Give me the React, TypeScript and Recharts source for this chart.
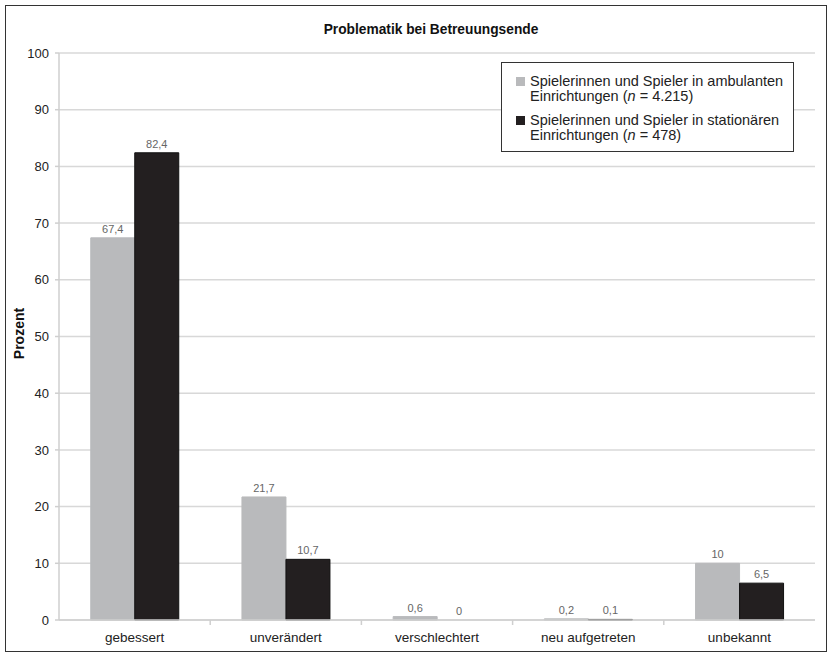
import { Bar, BarChart, CartesianGrid, Cell, LabelList, XAxis, YAxis } from "recharts";

const categories = ["gebessert", "unverändert", "verschlechtert", "neu aufgetreten", "unbekannt"];
const ambulant = [67.4, 21.7, 0.6, 0.2, 10];
const stationaer = [82.4, 10.7, 0, 0.1, 6.5];
const yTicks = [0, 10, 20, 30, 40, 50, 60, 70, 80, 90, 100];

const grayColor = "#b9babc";
const darkColor = "#231f20";
const font = "'Liberation Sans', Arial, sans-serif";

const data = categories.map((name, i) => ({
  name,
  ambulant: ambulant[i],
  stationaer: stationaer[i],
}));

const fmt = (v: unknown) => String(v).replace(".", ",");

// zero values get a hair-thin bar so their label still shows
const keepZero = (value: unknown) => (Number(value) === 0 ? 0.01 : 0);

function ValueLabel(props: any) {
  const { x, y, width, height, value } = props;
  const top = Math.min(Number(y), Number(y) + Number(height || 0));
  return (
    <text
      x={Number(x) + Number(width) / 2}
      y={top - 5}
      textAnchor="middle"
      fontSize={11}
      fill="#666"
      fontFamily={font}
    >
      {fmt(value)}
    </text>
  );
}

function CategoryTick(props: any) {
  const { x, y, payload, index } = props;
  const band = 756 / categories.length;
  return (
    <g>
      {index > 0 && (
        <line x1={x - band / 2} x2={x - band / 2} y1={y - 2} y2={y + 3} stroke="#cfcfcf" strokeWidth={1.5} />
      )}
      <text x={x} y={y + 20} textAnchor="middle" fontSize={13.5} fill="#222" fontFamily={font}>
        {payload.value}
      </text>
    </g>
  );
}

function LegendBox() {
  const row = (color: string, line1: string, n: string) => (
    <div style={{ display: "flex", alignItems: "flex-start", marginBottom: 9 }}>
      <span
        style={{
          width: 9,
          height: 9,
          background: color,
          marginTop: 3,
          marginRight: 5,
          flex: "none",
        }}
      />
      <span>
        {line1}
        <br />
        Einrichtungen (<i>n</i> = {n})
      </span>
    </div>
  );
  return (
    <div
      style={{
        position: "absolute",
        left: 501,
        top: 62,
        width: 293,
        height: 90,
        border: "1px solid #333",
        background: "#fff",
        fontFamily: font,
        fontSize: 14.5,
        lineHeight: "15px",
        color: "#222",
        padding: "11px 0 0 14px",
        boxSizing: "border-box",
      }}
    >
      {row(grayColor, "Spielerinnen und Spieler in ambulanten", "4.215")}
      {row(darkColor, "Spielerinnen und Spieler in stationären", "478")}
    </div>
  );
}

export default function App() {
  return (
    <div style={{ position: "fixed", left: 0, top: 0, width: 832, height: 656, background: "#fff" }}>
      <div
        style={{
          position: "absolute",
          left: 5,
          top: 5,
          width: 820,
          height: 645,
          border: "1px solid #333",
        }}
      />
      <div
        style={{
          position: "absolute",
          left: 0,
          width: 862,
          top: 22,
          textAlign: "center",
          fontFamily: font,
          fontWeight: "bold",
          fontSize: 13.75,
          lineHeight: "16px",
          color: "#111",
        }}
      >
        Problematik bei Betreuungsende
      </div>
      <BarChart
        width={832}
        height={656}
        data={data}
        margin={{ top: 53, right: 17, left: 0, bottom: 6 }}
        barCategoryGap="21%"
        barGap={0}
        style={{ position: "absolute", left: 0, top: 0 }}
      >
        <CartesianGrid vertical={false} stroke="#d8d8d8" strokeWidth={1.5} />
        <XAxis
          dataKey="name"
          height={30}
          axisLine={{ stroke: "#cfcfcf", strokeWidth: 1.5 }}
          tickLine={false}
          tickSize={0}
          interval={0}
          tick={<CategoryTick />}
        />
        <YAxis
          width={59}
          domain={[0, 100]}
          ticks={yTicks}
          interval={0}
          axisLine={{ stroke: "#cfcfcf", strokeWidth: 1.5 }}
          tickLine={{ stroke: "#cfcfcf", strokeWidth: 1.5 }}
          tickSize={4}
          tickMargin={6}
          tick={{ fontSize: 13, fill: "#222", fontFamily: font }}
          label={{
            value: "Prozent",
            angle: -90,
            position: "center",
            dx: -10,
            dy: -3,
            style: { fontSize: 14, fontWeight: "bold", fill: "#111", fontFamily: font },
          }}
        />
        <Bar
          dataKey="ambulant"
          fill={grayColor}
          stroke={grayColor}
          strokeWidth={1}
          minPointSize={keepZero}
          isAnimationActive={false}
        >
          {ambulant.map((v, i) => (
            <Cell key={`a-${i}`} stroke={v === 0 ? "none" : grayColor} fill={v === 0 ? "none" : grayColor} />
          ))}
          <LabelList dataKey="ambulant" content={<ValueLabel />} />
        </Bar>
        <Bar
          dataKey="stationaer"
          fill={darkColor}
          stroke="#111"
          strokeWidth={1}
          minPointSize={keepZero}
          isAnimationActive={false}
        >
          {stationaer.map((v, i) => (
            <Cell key={`s-${i}`} stroke={v === 0 ? "none" : "#111"} fill={v === 0 ? "none" : darkColor} />
          ))}
          <LabelList dataKey="stationaer" content={<ValueLabel />} />
        </Bar>
      </BarChart>
      <LegendBox />
    </div>
  );
}
